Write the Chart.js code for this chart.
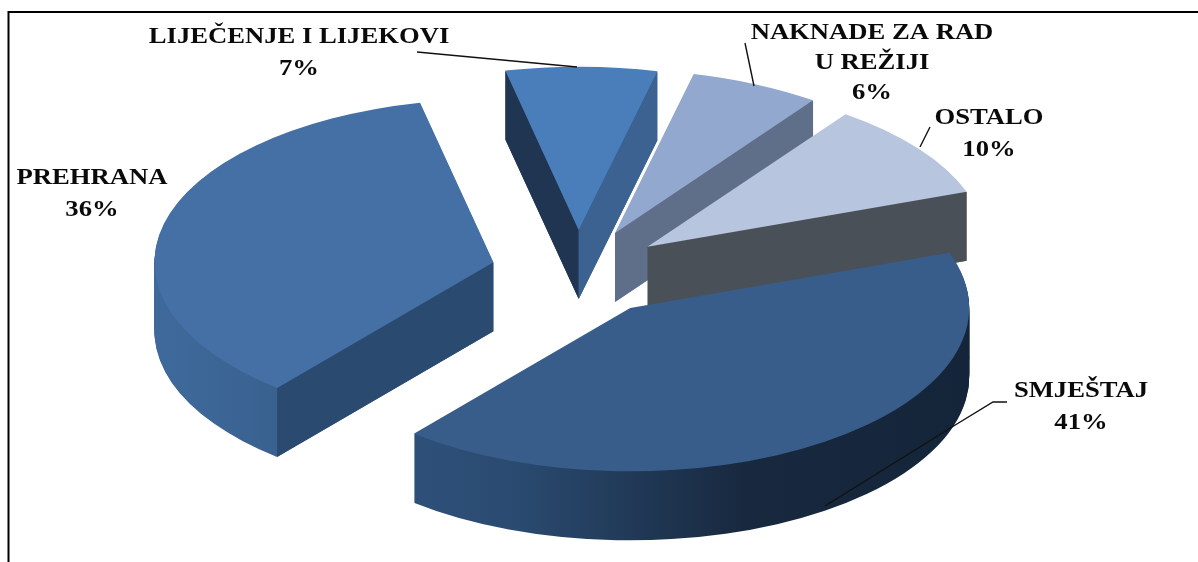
<!DOCTYPE html>
<html>
<head>
<meta charset="utf-8">
<style>html,body{margin:0;padding:0;background:#fff}canvas{display:block}</style>
<script src="https://cdn.jsdelivr.net/npm/chart.js@4"></script>
</head>
<body>
<canvas id="c" width="1198" height="562"></canvas>
<script>
const categories = ["SMJEŠTAJ", "PREHRANA", "LIJEČENJE I LIJEKOVI", "NAKNADE ZA RAD\nU REŽIJI", "OSTALO"];
const values = [41.49, 35.51, 7.2, 6.2, 9.6];
const topColors = ["#385d8a", "#4470a5", "#4a7ebb", "#93a8cf", "#b8c5de"];
const rimStops = [
  ["#335783", "#2a4a70", "#18293f", "#14253a"],
  ["#3e6a9b", "#365a87", "#2f5079", "#2b4a6f"],
  ["#2a4566", "#2a4566", "#3c6292", "#3c6292"],
  ["#6f84a8", "#6f84a8", "#5f6f8a", "#5f6f8a"],
  ["#4a5058", "#4a5058", "#4a5058", "#4a5058"]
];
const startFaceColors = [null, "#2b4a6f", "#1f3552", null, null];
const endFaceColors = [null, null, "#3c6292", "#5f6f8a", "#4a5058"];
const explode = [91, 87, 87, 89, 87];
const drawOrder = [2, 3, 4, 1, 0];
const tilt = 0.482, depth = 69;

const labelAnchors = [[1081, 391], [92, 178], [299, 37], [872, 33], [989, 118]];
const leaders = [
  [[1007, 402], [993, 402], [952, 427], [825, 506]],
  [],
  [[417, 52], [577, 67]],
  [[745, 43], [754, 86]],
  [[930, 127], [920, 147]]
];

const pie3d = {
  id: "pie3d",
  beforeDatasetsDraw(chart) {
    const ctx = chart.ctx, meta = chart.getDatasetMeta(0);
    for (const i of drawOrder) {
      const el = meta.data[i];
      const {x, y, startAngle: a, endAngle: b, outerRadius: R} = el;
      const mid = (a + b) / 2, e = explode[i];
      const ox = e * Math.cos(mid), oy = e * Math.sin(mid);
      const place = dy => {
        ctx.translate(x, y + dy);
        ctx.scale(1, tilt);
        ctx.translate(-x + ox, -y + oy);
      };
      const pt = t => [x + ox + R * Math.cos(t), y + tilt * (oy + R * Math.sin(t))];
      const base = el.options;
      // rim: the slice's own arc repeated down through the depth
      const g = ctx.createLinearGradient(x - R, 0, x + R, 0);
      rimStops[i].forEach((c, n) => g.addColorStop(n / 3, c));
      el.options = Object.create(base, {backgroundColor: {value: g}, borderWidth: {value: 0}});
      for (let d = depth; d > 0; d--) {
        ctx.save(); place(d); el.draw(ctx); ctx.restore();
      }
      // cut faces
      const face = (t, col) => {
        if (!col) return;
        const p = pt(t);
        const ax = x + ox, ay = y + tilt * oy;
        ctx.fillStyle = col;
        ctx.beginPath();
        ctx.moveTo(ax, ay); ctx.lineTo(p[0], p[1]);
        ctx.lineTo(p[0], p[1] + depth); ctx.lineTo(ax, ay + depth);
        ctx.closePath(); ctx.fill();
      };
      face(a, startFaceColors[i]);
      face(b, endFaceColors[i]);
      // top surface
      el.options = base;
      ctx.save(); place(0); el.draw(ctx); ctx.restore();
    }
    return false;
  },
  afterDraw(chart) {
    const ctx = chart.ctx;
    ctx.save();
    ctx.strokeStyle = "#000"; ctx.lineWidth = 2;
    ctx.beginPath(); ctx.moveTo(8.5, 562); ctx.lineTo(8.5, 12); ctx.lineTo(1198, 12); ctx.stroke();
    ctx.lineWidth = 1.4; ctx.strokeStyle = "#111";
    leaders.forEach(l => {
      if (!l.length) return;
      ctx.beginPath();
      l.forEach((p, n) => n ? ctx.lineTo(p[0], p[1]) : ctx.moveTo(p[0], p[1]));
      ctx.stroke();
    });
    ctx.fillStyle = "#0a0a0a"; ctx.textAlign = "center"; ctx.textBaseline = "middle";
    ctx.font = "bold 24px 'Liberation Serif'";
    categories.forEach((c, i) => {
      const lines = c.split("\n").concat(Math.round(values[i]) + "%");
      const [lx, ly] = labelAnchors[i];
      const step = lines.length === 3 ? 30 : 31.5;
      lines.forEach((t, n) => {
        ctx.save();
        ctx.translate(lx, ly + n * step);
        ctx.scale(1.11, 1);
        ctx.fillText(t, 0, 0);
        ctx.restore();
      });
    });
    ctx.restore();
  }
};

new Chart(document.getElementById("c"), {
  type: "pie",
  data: {
    labels: categories,
    datasets: [{data: values, backgroundColor: topColors, borderWidth: 0}]
  },
  options: {
    responsive: false,
    animation: false,
    events: [],
    rotation: 70.3,
    radius: 339,
    layout: {padding: {left: 0, right: 42, top: 0, bottom: 18}},
    plugins: {legend: {display: false}, tooltip: {enabled: false}, title: {display: false}}
  },
  plugins: [pie3d]
});
</script>
</body>
</html>
